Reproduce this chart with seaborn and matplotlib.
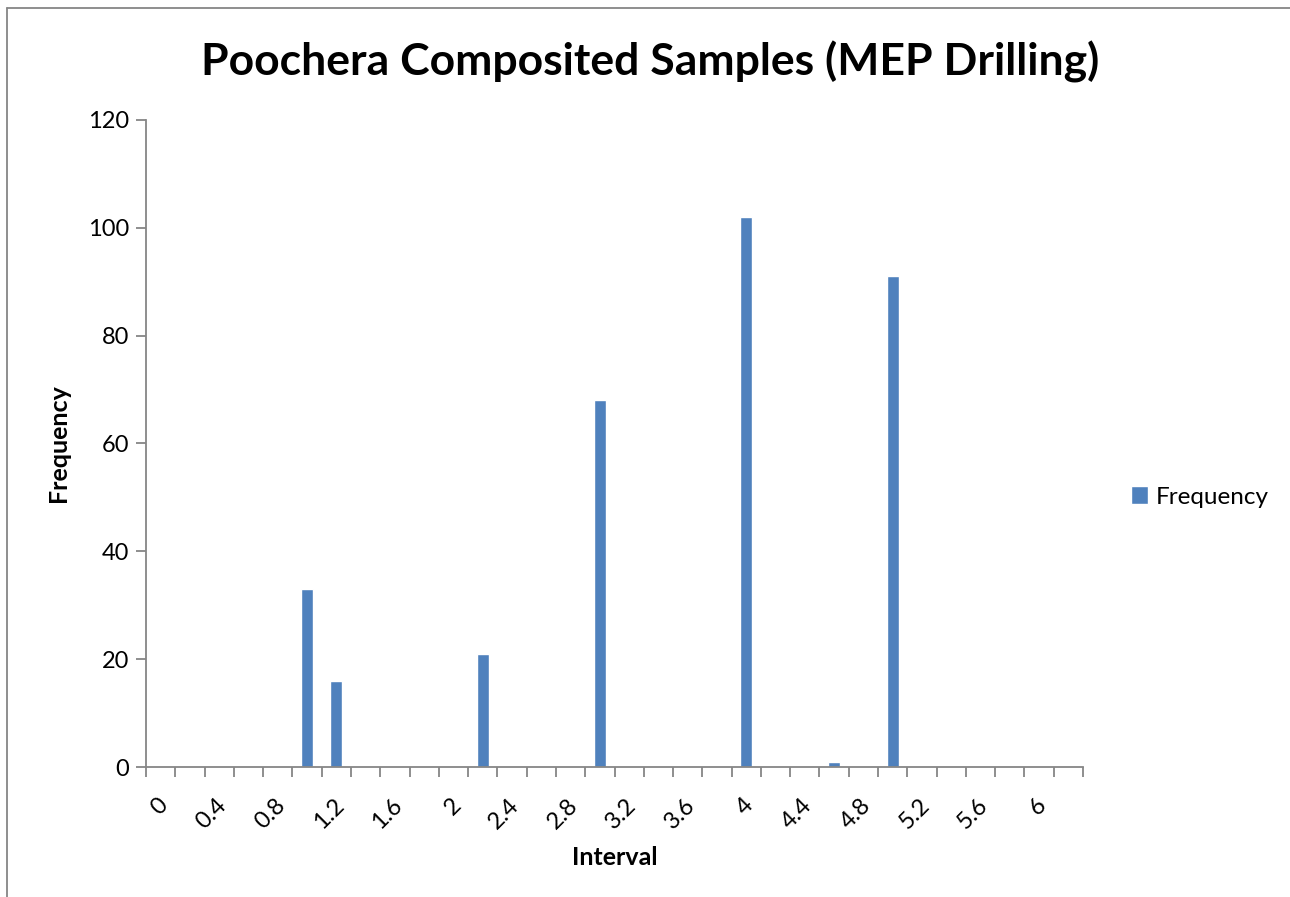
import matplotlib
matplotlib.use("Agg")
import matplotlib.pyplot as plt
import matplotlib.lines as mlines
import matplotlib.transforms as mtransforms
import seaborn as sns
import numpy as np
import pandas as pd

# --- DATA ---
# interval bins 0.0 .. 6.2, step 0.2 (as shown on the category axis)
intervals = [f"{v:g}" for v in np.round(np.arange(0, 6.21, 0.2), 1)]
freq_bins = ["1", "1.2", "2.2", "3", "4", "4.6", "5"]
freq_vals = [33, 16, 21, 68, 102, 1, 91]

counts = dict(zip(freq_bins, freq_vals))
df = pd.DataFrame({
    "Interval": intervals,
    "Frequency": [counts.get(i, 0) for i in intervals],
})

# --- STYLE ---
sns.set_style("white")
plt.rcParams["font.family"] = ["Lato", "DejaVu Sans"]
plt.rcParams["text.color"] = "black"
plt.rcParams["axes.labelcolor"] = "black"
plt.rcParams["xtick.color"] = "black"
plt.rcParams["ytick.color"] = "black"
BAR = "#4F81BD"
AXC = "#868686"
TICK_FS = 17

fig = plt.figure(figsize=(12.9, 8.97), dpi=100)
ax = fig.add_axes([146 / 1290, 1 - 767 / 897, (1083 - 146) / 1290, (767 - 120) / 897])

sns.barplot(data=df, x="Interval", y="Frequency", order=intervals, color=BAR,
            width=0.41, saturation=1, label="Frequency", ax=ax)

n = len(intervals)
ax.set_xlim(-0.5, n - 0.5)
ax.set_ylim(0, 120)
ax.set_yticks(range(0, 121, 20))
ax.tick_params(axis="y", labelsize=TICK_FS, length=7, width=1.3, color=AXC, pad=5,
               direction="out", left=True, labelcolor="black")

# Excel-style: tick marks on category boundaries, labels on every other category
ax.set_xticks(np.arange(-0.5, n, 1))
ax.set_xticklabels([])
ax.tick_params(axis="x", which="major", length=7, width=1.3, color=AXC, direction="out", bottom=True)
ax.set_xticks(np.arange(0, n, 2), minor=True)
ax.set_xticklabels(intervals[::2], minor=True, rotation=45, ha="right", va="center",
                   rotation_mode="anchor", fontsize=TICK_FS, color="black")
ax.tick_params(axis="x", which="minor", length=0, pad=25)
shift = mtransforms.ScaledTranslation(4 / 100, 0, fig.dpi_scale_trans)
for lbl in ax.get_xticklabels(minor=True):
    lbl.set_transform(lbl.get_transform() + shift)

for s in ["top", "right"]:
    ax.spines[s].set_visible(False)
for s in ["left", "bottom"]:
    ax.spines[s].set_color(AXC)
    ax.spines[s].set_linewidth(1.3)

ax.set_xlabel("Interval", fontsize=18, fontweight="bold", labelpad=0)
ax.xaxis.set_label_coords(0.5, -(846 - 767) / (767 - 120))
ax.set_ylabel("Frequency", fontsize=18, fontweight="bold")
ax.yaxis.set_label_coords(-(146 - 70) / (1083 - 146), 0.5)

fig.text(650 / 1290, 1 - 62 / 897, "Poochera Composited Samples (MEP Drilling)",
         ha="center", va="center", fontsize=32, fontweight="bold")

ax.legend(loc="center left", bbox_to_anchor=(1119 / 1290, 1 - 497 / 897),
          bbox_transform=fig.transFigure, frameon=False, fontsize=17.5,
          handlelength=0.7, handleheight=0.7, handletextpad=0.3, borderpad=0)

# outer chart-area border (top and left edges visible in the crop)
fig.add_artist(mlines.Line2D([7 / 1290, 1], [1 - 8 / 897, 1 - 8 / 897], color=AXC, lw=1.3))
fig.add_artist(mlines.Line2D([7 / 1290, 7 / 1290], [0, 1 - 8 / 897], color=AXC, lw=1.3))

fig.savefig("out.png", dpi=100, facecolor="white")
